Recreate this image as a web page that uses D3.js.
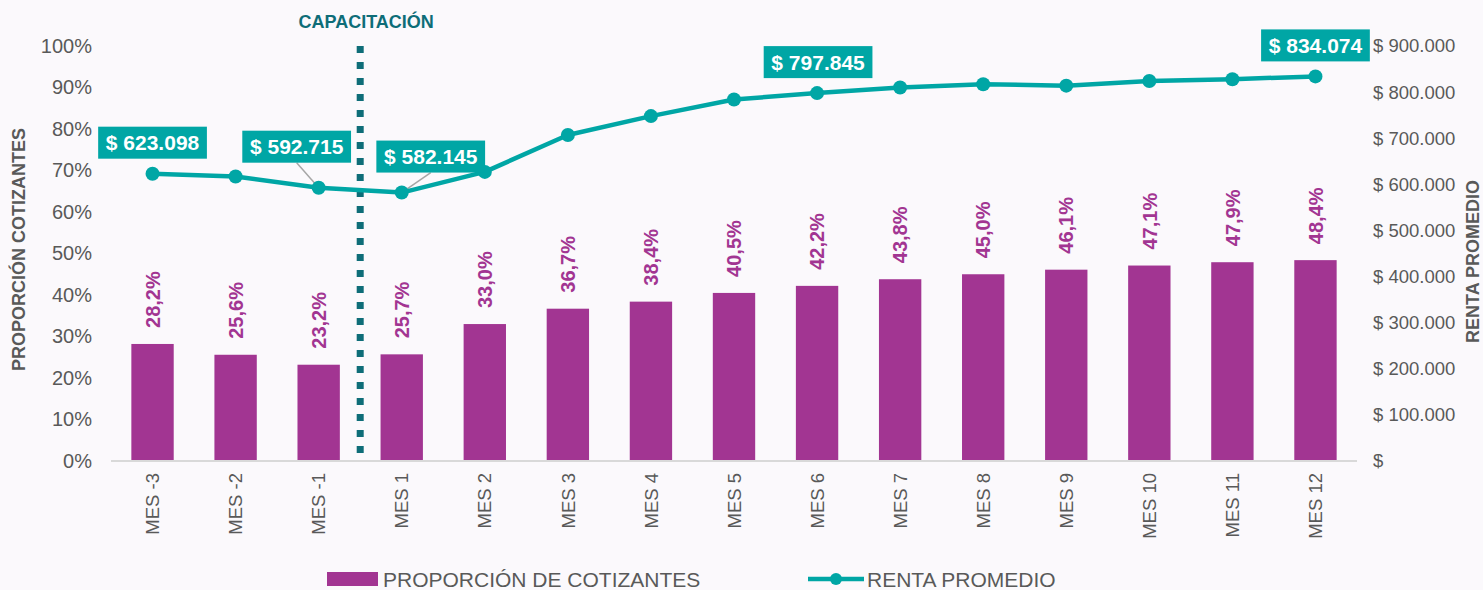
<!DOCTYPE html>
<html>
<head>
<meta charset="utf-8">
<script src="https://cdn.jsdelivr.net/npm/d3@7"></script>
<style>
  html, body { margin: 0; padding: 0; background: #fbf9fc; }
  #chart { width: 1483px; height: 590px; }
  text { font-family: "Liberation Sans", Arial, sans-serif; }
</style>
</head>
<body>
<div id="chart"></div>
<script>

// data
var categories = ["MES -3", "MES -2", "MES -1", "MES 1", "MES 2", "MES 3", "MES 4", "MES 5",
                  "MES 6", "MES 7", "MES 8", "MES 9", "MES 10", "MES 11", "MES 12"];
var proporcion = [28.2, 25.6, 23.2, 25.7, 33.0, 36.7, 38.4, 40.5, 42.2, 43.8, 45.0, 46.1, 47.1, 47.9, 48.4];
var renta = [623098, 617000, 592715, 582145, 627000, 707000, 748000, 784000,
             797845, 810000, 817000, 814000, 824000, 828000, 834074];
var pctTicks = [0, 10, 20, 30, 40, 50, 60, 70, 80, 90, 100];
var rentaTicks = [0, 100000, 200000, 300000, 400000, 500000, 600000, 700000, 800000, 900000];

// which points get a boxed label (index + box offset from the point)
var callouts = [
  {i: 0, dx: 0, dy: -31, leader: false},
  {i: 2, dx: -22, dy: -41, leader: true},
  {i: 3, dx: 29, dy: -36, leader: true},
  {i: 8, dx: 1, dy: -31, leader: false},
  {i: 14, dx: 0, dy: -31, leader: false}
];

var barColor = "#a23592";
var lineColor = "#00a6a5";
var markColor = "#0e6d78";
var textGrey = "#595959";

var totalWidth = 1483, totalHeight = 590;
var margin = {left: 111, right: 126, top: 46, bottom: 129};
var width = totalWidth - margin.left - margin.right;
var height = totalHeight - margin.top - margin.bottom;

var svg = d3.select("#chart").append("svg")
    .attr("width", totalWidth)
    .attr("height", totalHeight);

svg.append("rect").attr("width", totalWidth).attr("height", totalHeight).attr("fill", "#fbf9fc");

var g = svg.append("g").attr("transform", "translate(" + margin.left + "," + margin.top + ")");

var xScale = d3.scaleBand().domain(categories).range([0, width]).paddingInner(0.49).paddingOuter(0.245);
var yPct = d3.scaleLinear().domain([0, 100]).range([height, 0]);
var yRenta = d3.scaleLinear().domain([0, 900000]).range([height, 0]);

var es = d3.formatLocale({decimal: ",", thousands: ".", grouping: [3], currency: ["$", ""]});
var fmtMoney = function(v) { return v === 0 ? "$" : "$ " + es.format(",")(v); };
var fmtPct = function(v) { return es.format(".1f")(v) + "%"; };

// left axis
var yAxisL = d3.axisLeft(yPct).tickValues(pctTicks).tickSize(0).tickPadding(19)
    .tickFormat(function(d) { return d + "%"; });
g.append("g").call(yAxisL)
    .call(function(s) { s.select(".domain").remove(); })
    .selectAll("text").attr("fill", textGrey).style("font-size", "20px");

// right axis
var yAxisR = d3.axisRight(yRenta).tickValues(rentaTicks).tickSize(0).tickPadding(16)
    .tickFormat(fmtMoney);
g.append("g").attr("transform", "translate(" + width + ",0)").call(yAxisR)
    .call(function(s) { s.select(".domain").remove(); })
    .selectAll("text").attr("fill", textGrey).style("font-size", "18.5px");

// bars
g.selectAll(".bar")
    .data(proporcion)
    .enter().append("rect")
    .attr("class", "bar")
    .attr("x", function(d, i) { return xScale(categories[i]); })
    .attr("width", xScale.bandwidth())
    .attr("y", function(d) { return yPct(d); })
    .attr("height", function(d) { return height - yPct(d); })
    .attr("fill", barColor);

// bar labels, rotated
g.selectAll(".barlabel")
    .data(proporcion)
    .enter().append("text")
    .attr("class", "barlabel")
    .attr("transform", function(d, i) {
      var cx = xScale(categories[i]) + xScale.bandwidth() / 2;
      return "translate(" + cx + "," + (yPct(d) - 16) + ") rotate(-90)";
    })
    .attr("dy", "0.36em")
    .attr("text-anchor", "start")
    .attr("fill", barColor)
    .style("font-size", "20px")
    .style("font-weight", "bold")
    .text(fmtPct);

// baseline
g.append("line")
    .attr("x1", 0).attr("x2", width)
    .attr("y1", height).attr("y2", height)
    .attr("stroke", "#d9d9d9").attr("stroke-width", 2);

// x labels
g.selectAll(".xlabel")
    .data(categories)
    .enter().append("text")
    .attr("class", "xlabel")
    .attr("transform", function(d) {
      var cx = xScale(d) + xScale.bandwidth() / 2;
      return "translate(" + cx + "," + (height + 12) + ") rotate(-90)";
    })
    .attr("dy", "0.36em")
    .attr("text-anchor", "end")
    .attr("fill", textGrey)
    .style("font-size", "18.5px")
    .text(function(d) { return d; });

// capacitacion marker between MES -1 and MES 1
var step = xScale.step();
var markX = xScale("MES 1") - (step - xScale.bandwidth()) / 2;
g.append("line")
    .attr("x1", markX).attr("x2", markX)
    .attr("y1", 0).attr("y2", height)
    .attr("stroke", markColor).attr("stroke-width", 7)
    .attr("stroke-dasharray", "7,9");
g.append("text")
    .attr("x", markX + 6).attr("y", -18)
    .attr("text-anchor", "middle")
    .attr("fill", markColor)
    .style("font-size", "18px").style("font-weight", "bold")
    .text("CAPACITACIÓN");

// line
var cxOf = function(i) { return xScale(categories[i]) + xScale.bandwidth() / 2; };
var line = d3.line()
    .x(function(d, i) { return cxOf(i); })
    .y(function(d) { return yRenta(d); });

// leader lines (under the line and points)
var leaders = g.append("g");

g.append("path")
    .datum(renta)
    .attr("d", line)
    .attr("fill", "none")
    .attr("stroke", lineColor)
    .attr("stroke-width", 4.5)
    .attr("stroke-linejoin", "round");

g.selectAll(".dot")
    .data(renta)
    .enter().append("circle")
    .attr("class", "dot")
    .attr("cx", function(d, i) { return cxOf(i); })
    .attr("cy", function(d) { return yRenta(d); })
    .attr("r", 7)
    .attr("fill", lineColor);

// callout boxes
callouts.forEach(function(c) {
  var px = cxOf(c.i), py = yRenta(renta[c.i]);
  var bx = px + c.dx, by = py + c.dy;
  var box = g.append("g").attr("transform", "translate(" + bx + "," + by + ")");
  var rect = box.append("rect").attr("fill", lineColor);
  var t = box.append("text")
      .attr("text-anchor", "middle")
      .attr("dy", "0.36em")
      .attr("fill", "white")
      .style("font-size", "21px").style("font-weight", "bold")
      .text(fmtMoney(renta[c.i]));
  var bb = t.node().getBBox();
  var w = bb.width + 15, h = 32;
  rect.attr("x", -w / 2).attr("y", -h / 2).attr("width", w).attr("height", h);
  if (c.leader) {
    leaders.append("line")
      .attr("x1", bx).attr("y1", by + h / 2)
      .attr("x2", px).attr("y2", py)
      .attr("stroke", "#a6a6a6").attr("stroke-width", 1.5);
  }
});

// axis titles
svg.append("text")
    .attr("transform", "translate(25," + (margin.top + height / 2 - 4) + ") rotate(-90)")
    .attr("text-anchor", "middle")
    .attr("fill", textGrey)
    .style("font-size", "18px").style("font-weight", "bold")
    .text("PROPORCIÓN COTIZANTES");

svg.append("text")
    .attr("transform", "translate(1479," + (margin.top + height / 2 + 8) + ") rotate(-90)")
    .attr("text-anchor", "middle")
    .attr("fill", textGrey)
    .style("font-size", "18px").style("font-weight", "bold")
    .text("RENTA PROMEDIO");

// legend
var legend = svg.append("g").attr("transform", "translate(0,579)");
legend.append("rect")
    .attr("x", 327).attr("y", -7).attr("width", 51).attr("height", 14)
    .attr("fill", barColor);
legend.append("text")
    .attr("x", 383).attr("y", 0).attr("dy", "0.36em")
    .attr("fill", textGrey).style("font-size", "21px")
    .text("PROPORCIÓN DE COTIZANTES");
legend.append("line")
    .attr("x1", 808).attr("x2", 864).attr("y1", 0).attr("y2", 0)
    .attr("stroke", lineColor).attr("stroke-width", 4.5);
legend.append("circle")
    .attr("cx", 836).attr("cy", 0).attr("r", 6)
    .attr("fill", lineColor);
legend.append("text")
    .attr("x", 867).attr("y", 0).attr("dy", "0.36em")
    .attr("fill", textGrey).style("font-size", "21px")
    .text("RENTA PROMEDIO");

</script>
</body>
</html>
